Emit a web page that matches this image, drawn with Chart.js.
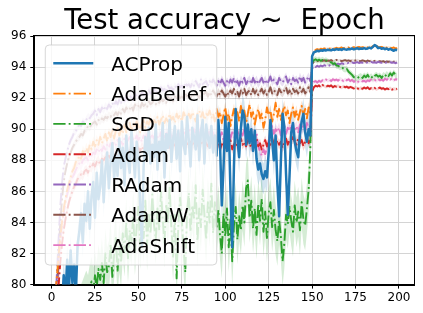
<!DOCTYPE html>
<html>
<head>
<meta charset="utf-8">
<script src="https://cdn.jsdelivr.net/npm/chart.js@4.4.0/dist/chart.umd.min.js"></script>
<style>
  html, body { margin: 0; padding: 0; background: #fff; }
</style>
</head>
<body>
<canvas id="accChart" width="423" height="313"></canvas>
<script>
// epochs 0..199 and axis ticks
const epochs = Array.from({ length: 200 }, (_, i) => i);
const xTicks = [0, 25, 50, 75, 100, 125, 150, 175, 200];
const yTicks = [80, 82, 84, 86, 88, 90, 92, 94, 96];
const lrDropEpoch = 150;
const titleText = 'Test accuracy ~  Epoch';

const names = ['ACProp', 'AdaBelief', 'SGD', 'Adam', 'RAdam', 'AdamW', 'AdaShift'];
const colors = ['#1f77b4', '#ff7f0e', '#2ca02c', '#d62728', '#9467bd', '#8c564b', '#e377c2'];
// half width of the shaded band, before / after the lr drop
const spreadBefore = [1.0, 0.35, 1.6, 0.3, 0.25, 0.25, 0.35];
const spreadAfter = [0.08, 0.08, 0.2, 0.1, 0.08, 0.08, 0.12];

const acprop = [
  62.0, 68.5, 72.0, 74.5, 76.3, 77.5, 78.6, 80.6, 79.2, 81.6,
  79.6, 82.2, 80.1, 81.3, 79.4, 82.6, 83.4, 84.6, 82.7, 85.2,
  84.1, 86.0, 83.6, 85.7, 86.6, 84.3, 87.2, 85.5, 86.3, 88.0,
  85.3, 87.4, 88.5, 86.2, 87.9, 89.1, 86.8, 88.3, 87.0, 89.4,
  87.5, 88.8, 86.4, 89.6, 88.1, 87.2, 89.9, 88.4, 86.9, 89.2,
  88.0, 85.3, 82.5, 87.6, 89.5, 88.3, 90.1, 87.8, 89.0, 88.2,
  90.3, 87.4, 89.2, 88.6, 90.4, 86.9, 89.7, 88.8, 90.6, 87.9,
  89.4, 90.2, 88.1, 89.9, 87.3, 90.5, 89.0, 88.4, 90.8, 89.3,
  87.6, 90.1, 89.5, 88.7, 90.9, 88.0, 89.8, 90.6, 87.8, 90.3,
  89.5, 88.8, 90.2, 88.5, 89.6, 88.3, 90.6, 89.0, 85.1, 87.5,
  90.8, 88.6, 90.4, 86.0, 82.4, 87.6, 91.3, 89.4, 88.2, 90.1,
  91.2, 90.8, 89.0, 90.3, 89.1, 90.0, 88.6, 89.9, 88.1, 87.4,
  87.8, 87.1, 86.8, 87.3, 86.9, 88.5, 90.6, 89.3, 88.0, 89.6,
  86.5, 84.4, 87.9, 91.0, 90.2, 87.1, 84.5, 87.0, 89.8, 90.4,
  89.2, 88.6, 88.2, 89.7, 90.5, 91.0, 89.8, 89.2, 90.0, 89.6,
  94.7, 94.95, 95.0, 95.05, 95.02, 95.08, 95.05, 95.1, 95.07, 95.12,
  95.1, 95.08, 95.14, 95.1, 95.16, 95.12, 95.15, 95.1, 95.18, 95.14,
  95.12, 95.17, 95.15, 95.2, 95.14, 95.18, 95.22, 95.16, 95.2, 95.18,
  95.22, 95.17, 95.2, 95.25, 95.2, 95.3, 95.42, 95.35, 95.22, 95.25,
  95.18, 95.22, 95.15, 95.2, 95.12, 95.18, 95.1, 95.05, 95.12, 95.1
];

const adabelief = [
  75.5, 77.8, 79.2, 80.4, 81.8, 83.0, 84.0, 84.9, 85.5, 86.1,
  86.5, 86.9, 87.3, 87.5, 87.9, 88.0, 88.3, 88.1, 88.6, 88.4,
  88.8, 88.5, 89.0, 88.7, 89.2, 88.9, 89.3, 89.0, 89.5, 89.1,
  89.4, 89.7, 89.2, 89.8, 89.5, 90.0, 89.4, 89.9, 90.1, 89.6,
  90.0, 89.7, 90.3, 89.8, 90.2, 90.4, 89.9, 90.3, 90.1, 90.5,
  90.2, 89.8, 90.4, 90.6, 90.1, 90.5, 90.3, 90.7, 90.2, 90.6,
  90.4, 90.8, 90.3, 90.6, 90.9, 90.4, 90.7, 90.5, 91.0, 90.6,
  90.8, 90.4, 91.0, 90.7, 90.9, 90.5, 91.1, 90.8, 90.6, 91.0,
  90.7, 91.1, 90.8, 90.5, 91.0, 91.2, 90.8, 91.1, 90.6, 91.0,
  90.9, 91.2, 90.7, 91.0, 90.5, 91.3, 90.8, 91.1, 90.4, 90.9,
  91.4, 90.6, 91.0, 90.2, 90.8, 91.3, 90.7, 91.1, 90.5, 91.5,
  90.9, 91.2, 90.4, 91.0, 91.6, 90.8, 91.1, 90.3, 90.9, 91.3,
  90.7, 91.0, 90.1, 90.6, 91.4, 90.9, 91.2, 90.5, 91.0, 91.7,
  90.8, 91.3, 90.6, 91.1, 91.5, 90.9, 91.2, 90.4, 91.0, 91.4,
  90.8, 91.2, 90.6, 91.1, 91.5, 90.9, 91.3, 90.7, 91.4, 91.0,
  94.5, 95.0, 95.1, 95.15, 95.1, 95.18, 95.14, 95.2, 95.16, 95.2,
  95.18, 95.22, 95.17, 95.2, 95.24, 95.2, 95.22, 95.26, 95.2, 95.24,
  95.22, 95.26, 95.2, 95.25, 95.28, 95.22, 95.27, 95.3, 95.24, 95.28,
  95.26, 95.3, 95.25, 95.32, 95.28, 95.34, 95.38, 95.36, 95.3, 95.28,
  95.3, 95.26, 95.3, 95.24, 95.28, 95.25, 95.22, 95.26, 95.2, 95.22
];

const sgd = [
  55.0, 60.5, 64.0, 66.8, 68.9, 70.6, 71.9, 73.0, 73.9, 74.6,
  75.3, 75.8, 76.4, 76.9, 77.2, 77.7, 78.0, 78.4, 78.7, 79.0,
  79.3, 79.0, 79.7, 80.2, 79.5, 80.6, 79.8, 81.0, 80.3, 81.4,
  80.1, 82.0, 80.8, 81.2, 82.6, 80.5, 81.9, 83.0, 80.9, 82.4,
  81.4, 83.3, 82.1, 84.0, 81.7, 83.5, 82.8, 84.4, 82.2, 83.7,
  85.0, 82.6, 84.1, 83.0, 85.4, 82.5, 84.6, 83.3, 85.8, 83.8,
  82.9, 84.9, 83.5, 86.0, 84.2, 82.7, 85.2, 84.0, 86.3, 83.6,
  81.8, 84.5, 80.4, 83.9, 85.6, 84.1, 82.3, 80.8, 84.7, 85.9,
  83.4, 85.1, 84.3, 86.4, 82.8, 84.9, 83.7, 86.1, 84.5, 82.9,
  85.3, 84.0, 86.5, 83.3, 85.3, 83.6, 84.8, 83.2, 82.0, 84.6,
  83.1, 84.9, 82.4, 84.2, 81.5, 83.8, 85.0, 82.9, 84.4, 83.5,
  85.1, 84.0, 86.2, 86.7, 84.3, 85.4, 83.6, 84.9, 83.2, 85.2,
  84.1, 85.5, 83.4, 84.7, 83.0, 84.6, 85.3, 83.7, 84.8, 83.5,
  82.8, 84.2, 83.1, 81.5, 82.6, 84.5, 83.9, 85.0, 84.1, 83.4,
  85.1, 84.0, 84.7, 83.5, 85.3, 84.2, 83.8, 84.9, 86.1, 88.8,
  94.2, 94.45, 94.5, 94.42, 94.48, 94.4, 94.46, 94.38, 94.44, 94.35,
  94.3, 94.32, 94.2, 94.25, 94.1, 94.08, 94.0, 94.02, 93.9, 93.85,
  93.88, 93.7, 93.6, 93.5, 93.35, 93.3, 93.28, 93.36, 93.42, 93.3,
  93.45, 93.35, 93.5, 93.3, 93.4, 93.28, 93.42, 93.5, 93.38, 93.45,
  93.3, 93.48, 93.4, 93.55, 93.42, 93.6, 93.45, 93.65, 93.5, 93.4
];

const adam = [
  70.5, 74.0, 76.4, 78.2, 79.8, 81.4, 82.6, 83.5, 84.2, 84.8,
  85.3, 85.7, 86.0, 86.3, 86.5, 86.8, 86.9, 87.1, 87.0, 87.3,
  87.4, 87.2, 87.6, 87.5, 87.8, 87.6, 87.9, 88.0, 87.7, 88.1,
  88.0, 88.2, 87.9, 88.3, 88.1, 88.4, 88.2, 88.5, 88.3, 88.4,
  88.6, 88.3, 88.5, 88.7, 88.4, 88.6, 88.8, 88.5, 88.7, 88.6,
  88.8, 88.6, 88.9, 88.7, 88.5, 88.9, 88.7, 89.0, 88.8, 88.6,
  88.9, 89.0, 88.7, 89.1, 88.8, 89.0, 88.9, 89.2, 88.8, 89.0,
  89.1, 88.9, 89.2, 89.0, 88.8, 89.1, 89.3, 88.9, 89.1, 89.0,
  89.2, 88.9, 89.1, 89.3, 89.0, 88.8, 89.2, 89.0, 89.3, 89.1,
  88.9, 89.2, 89.0, 88.8, 89.1, 88.9, 89.3, 88.7, 89.0, 89.2,
  88.8, 89.1, 88.9, 89.3, 88.7, 89.0, 89.2, 88.8, 89.1, 89.4,
  89.0, 89.2, 88.9, 89.3, 89.1, 88.8, 89.2, 89.0, 89.4, 88.9,
  89.1, 88.7, 89.0, 89.3, 88.9, 89.2, 89.0, 89.4, 89.1, 88.9,
  89.3, 89.0, 89.2, 88.8, 89.1, 89.4, 89.0, 89.3, 89.1, 89.5,
  89.2, 89.0, 89.4, 89.1, 89.3, 88.9, 89.2, 89.5, 89.1, 89.3,
  92.4, 92.7, 92.8, 92.75, 92.82, 92.7, 92.85, 92.78, 92.72, 92.8,
  92.76, 92.82, 92.7, 92.78, 92.74, 92.8, 92.72, 92.68, 92.76, 92.7,
  92.74, 92.66, 92.72, 92.68, 92.62, 92.7, 92.64, 92.58, 92.66, 92.6,
  92.68, 92.62, 92.7, 92.58, 92.64, 92.6, 92.66, 92.56, 92.62, 92.68,
  92.6, 92.64, 92.56, 92.62, 92.58, 92.65, 92.55, 92.6, 92.57, 92.6
];

const radam = [
  72.0, 75.6, 78.3, 80.5, 82.8, 85.0, 86.5, 87.6, 88.1, 88.6,
  89.0, 89.3, 89.5, 89.8, 89.9, 90.1, 90.3, 90.2, 90.5, 90.4,
  90.6, 90.8, 90.7, 90.9, 91.0, 91.2, 90.9, 91.3, 91.1, 91.4,
  91.2, 91.5, 91.3, 91.6, 91.4, 91.7, 91.5, 91.8, 91.6, 91.9,
  91.7, 92.0, 91.8, 92.1, 91.9, 92.0, 92.2, 91.9, 92.3, 92.1,
  92.2, 92.0, 92.4, 92.2, 92.3, 92.1, 92.5, 92.3, 92.4, 92.6,
  92.3, 92.5, 92.4, 92.7, 92.5, 92.6, 92.4, 92.8, 92.6, 92.7,
  92.5, 92.8, 92.6, 92.9, 92.7, 92.8, 92.6, 93.0, 92.8, 92.9,
  92.7, 93.0, 92.8, 93.1, 92.9, 92.7, 93.2, 92.9, 93.0, 93.1,
  92.8, 93.1, 92.9, 93.2, 93.0, 92.8, 93.1, 92.9, 93.2, 93.0,
  92.8, 93.1, 92.9, 93.2, 93.0, 93.3, 92.9, 93.1, 92.8, 93.2,
  93.0, 93.3, 92.9, 93.1, 93.2, 92.9, 93.3, 93.0, 93.2, 92.9,
  93.1, 93.3, 93.0, 93.2, 92.9, 93.1, 93.4, 93.0, 93.2, 93.1,
  92.9, 93.3, 93.1, 93.0, 93.2, 93.4, 93.0, 93.2, 92.9, 93.3,
  93.1, 93.2, 93.0, 93.4, 93.1, 93.3, 93.0, 93.2, 93.4, 93.1,
  93.9, 94.05, 94.0, 94.08, 94.02, 94.1, 94.05, 94.12, 94.08, 94.15,
  94.1, 94.18, 94.14, 94.2, 94.16, 94.22, 94.18, 94.25, 94.2, 94.24,
  94.22, 94.28, 94.24, 94.3, 94.26, 94.28, 94.32, 94.26, 94.3, 94.28,
  94.32, 94.27, 94.3, 94.26, 94.33, 94.29, 94.31, 94.27, 94.34, 94.3,
  94.28, 94.32, 94.27, 94.3, 94.26, 94.31, 94.28, 94.3, 94.25, 94.29
];

const adamw = [
  70.0, 74.0, 77.0, 79.4, 81.7, 83.9, 85.5, 86.6, 87.3, 87.8,
  88.2, 88.5, 88.8, 89.0, 89.2, 89.4, 89.5, 89.7, 89.6, 89.9,
  90.0, 90.2, 90.1, 90.3, 90.4, 90.5, 90.3, 90.6, 90.5, 90.7,
  90.6, 90.8, 90.7, 90.9, 90.8, 91.0, 90.9, 91.1, 90.9, 91.2,
  91.0, 91.3, 91.1, 91.4, 91.2, 91.3, 91.5, 91.2, 91.6, 91.4,
  91.5, 91.3, 91.7, 91.5, 91.6, 91.4, 91.8, 91.6, 91.7, 91.9,
  91.6, 91.8, 91.7, 92.0, 91.8, 91.9, 91.7, 92.1, 91.9, 92.0,
  91.8, 92.1, 91.9, 92.2, 92.0, 92.1, 91.9, 92.3, 92.1, 92.2,
  92.0, 92.3, 92.1, 92.4, 92.2, 92.0, 92.4, 92.2, 92.3, 92.4,
  92.1, 92.4, 92.2, 92.5, 92.3, 92.1, 92.4, 92.2, 92.5, 92.3,
  92.1, 92.4, 92.2, 92.5, 92.3, 92.6, 92.2, 92.4, 92.1, 92.5,
  92.3, 92.6, 92.2, 92.4, 92.5, 92.2, 92.6, 92.3, 92.5, 92.2,
  92.4, 92.6, 92.3, 92.5, 92.2, 92.4, 92.7, 92.3, 92.5, 92.4,
  92.2, 92.6, 92.4, 92.3, 92.5, 92.7, 92.3, 92.5, 92.2, 92.6,
  92.4, 92.5, 92.3, 92.7, 92.4, 92.6, 92.3, 92.5, 92.7, 92.4,
  94.2, 94.35, 94.4, 94.38, 94.42, 94.36, 94.4, 94.44, 94.38, 94.42,
  94.4, 94.45, 94.38, 94.42, 94.46, 94.4, 94.44, 94.38, 94.42, 94.45,
  94.4, 94.43, 94.38, 94.45, 94.4, 94.42, 94.46, 94.4, 94.38, 94.43,
  94.4, 94.36, 94.42, 94.38, 94.4, 94.35, 94.4, 94.37, 94.33, 94.38,
  94.35, 94.38, 94.32, 94.36, 94.34, 94.37, 94.32, 94.35, 94.33, 94.36
];

const adashift = [
  72.5, 75.8, 78.0, 79.6, 81.2, 82.7, 83.8, 84.6, 85.3, 85.8,
  86.2, 86.6, 86.9, 87.1, 87.4, 87.6, 87.8, 87.7, 88.0, 88.1,
  88.2, 88.0, 88.4, 88.3, 88.5, 88.4, 88.7, 88.5, 88.8, 88.6,
  88.9, 88.7, 89.0, 88.8, 89.1, 88.9, 89.2, 89.0, 89.3, 89.1,
  89.2, 89.0, 89.4, 89.1, 89.3, 89.5, 89.2, 89.4, 89.3, 89.6,
  89.3, 89.5, 89.2, 89.6, 89.4, 89.7, 89.3, 89.5, 89.6, 89.4,
  89.7, 89.5, 89.4, 89.8, 89.6, 89.5, 89.8, 89.6, 89.9, 89.5,
  89.7, 89.9, 89.6, 89.8, 89.5, 90.0, 89.7, 89.8, 89.6, 90.0,
  89.8, 89.6, 90.0, 89.7, 89.9, 89.6, 90.1, 89.8, 89.7, 90.0,
  89.6, 89.9, 89.5, 89.8, 89.4, 89.7, 89.9, 89.5, 89.8, 89.3,
  89.7, 89.5, 90.0, 89.4, 89.8, 89.6, 89.3, 89.9, 89.5, 89.8,
  89.6, 90.0, 89.4, 89.8, 89.5, 89.9, 89.7, 89.3, 89.8, 88.9,
  88.6, 88.3, 88.7, 88.4, 88.8, 89.2, 89.9, 90.2, 89.7, 90.0,
  89.8, 90.1, 89.6, 90.0, 90.2, 89.7, 90.1, 89.9, 90.3, 89.8,
  90.0, 90.2, 89.8, 90.3, 90.0, 90.2, 89.9, 90.4, 90.1, 90.2,
  92.9, 93.05, 93.1, 93.0, 93.12, 93.05, 93.15, 93.1, 93.2, 93.12,
  93.18, 93.1, 93.22, 93.15, 93.2, 93.12, 93.25, 93.18, 93.1, 93.2,
  93.15, 93.22, 93.1, 93.18, 93.05, 93.12, 93.0, 93.1, 93.15, 93.08,
  93.12, 93.05, 93.15, 93.1, 93.2, 93.12, 93.18, 93.1, 93.22, 93.15,
  93.2, 93.12, 93.25, 93.18, 93.3, 93.2, 93.28, 93.15, 93.22, 93.2
];

const seriesValues = [acprop, adabelief, sgd, adam, radam, adamw, adashift];
const FONT = 'DejaVu Sans';
const dashDot = [12.3, 3.1, 1.9, 3.1];

function hexToRgba(hex, a) {
  const n = parseInt(hex.slice(1), 16);
  return `rgba(${(n >> 16) & 255}, ${(n >> 8) & 255}, ${n & 255}, ${a})`;
}

const series = names.map((name, i) => ({
  label: name,
  values: seriesValues[i],
  color: colors[i],
  dash: i === 0 ? [] : dashDot,
  width: i === 0 ? 2.5 : 1.9,
}));

// mean lines first (index 0 ends up on top), then band pairs
const datasets = series.map(s => ({
  label: s.label,
  data: s.values.map((v, i) => ({ x: epochs[i], y: v })),
  borderColor: s.color,
  borderWidth: s.width,
  borderDash: s.dash,
  borderJoinStyle: 'round',
  pointRadius: 0,
  fill: false,
  clip: 0,
  order: 0,
}));

series.forEach((s, k) => {
  const half = i => (epochs[i] < lrDropEpoch ? spreadBefore[k] : spreadAfter[k]);
  const lowerIndex = datasets.length;
  datasets.push({
    label: s.label + ' low',
    data: s.values.map((v, i) => ({ x: epochs[i], y: v - half(i) })),
    borderWidth: 0,
    pointRadius: 0,
    fill: false,
    clip: 0,
    order: 10,
  });
  datasets.push({
    label: s.label + ' high',
    data: s.values.map((v, i) => ({ x: epochs[i], y: v + half(i) })),
    borderWidth: 0,
    pointRadius: 0,
    backgroundColor: hexToRgba(s.color, 0.2),
    fill: lowerIndex,
    clip: 0,
    order: 10,
  });
});

// title centred over the plot area, like matplotlib's ax.set_title
const titlePlugin = {
  id: 'axTitle',
  afterDraw(chart) {
    const { ctx, chartArea: a } = chart;
    ctx.save();
    ctx.font = `27.5px "${FONT}"`;
    ctx.fillStyle = '#000';
    ctx.textAlign = 'center';
    ctx.textBaseline = 'alphabetic';
    ctx.fillText(titleText, (a.left + a.right) / 2, 29);
    ctx.restore();
  }
};

// top and right spines
const framePlugin = {
  id: 'frame',
  afterDatasetsDraw(chart) {
    const { ctx, chartArea: a } = chart;
    ctx.save();
    ctx.strokeStyle = '#000';
    ctx.lineWidth = 1;
    ctx.strokeRect(Math.round(a.left) - 0.5, Math.round(a.top) - 0.5,
      Math.round(a.right - a.left) + 1, Math.round(a.bottom - a.top) + 1);
    ctx.restore();
  }
};

// matplotlib style legend box in the upper left of the plot
const legendPlugin = {
  id: 'mplLegend',
  afterDatasetsDraw(chart) {
    const { ctx, chartArea: a } = chart;
    const left = a.left + 11, top = a.top + 9, w = 171.5, h = 220, r = 4;
    ctx.save();
    ctx.beginPath();
    ctx.moveTo(left + r, top);
    ctx.arcTo(left + w, top, left + w, top + h, r);
    ctx.arcTo(left + w, top + h, left, top + h, r);
    ctx.arcTo(left, top + h, left, top, r);
    ctx.arcTo(left, top, left + w, top, r);
    ctx.closePath();
    ctx.fillStyle = 'rgba(255,255,255,0.8)';
    ctx.fill();
    ctx.strokeStyle = 'rgba(204,204,204,0.8)';
    ctx.lineWidth = 1;
    ctx.stroke();

    ctx.font = `20px "${FONT}"`;
    ctx.fillStyle = '#000';
    ctx.textBaseline = 'alphabetic';
    series.forEach((s, i) => {
      const y = top + 18.3 + i * 30.3;
      ctx.beginPath();
      ctx.setLineDash(s.dash);
      ctx.lineWidth = s.width;
      ctx.strokeStyle = s.color;
      ctx.moveTo(left + 8, y);
      ctx.lineTo(left + 48, y);
      ctx.stroke();
      ctx.setLineDash([]);
      ctx.fillText(s.label, left + 66, y + 7.4);
    });
    ctx.restore();
  }
};

const tickFont = { family: FONT, size: 12 };

new Chart(document.getElementById('accChart'), {
  type: 'line',
  data: { datasets },
  options: {
    responsive: false,
    animation: false,
    devicePixelRatio: 1,
    layout: { padding: { left: 7, right: 8.5, top: 36, bottom: 6 } },
    elements: { line: { tension: 0 }, point: { radius: 0 } },
    plugins: {
      legend: { display: false },
      tooltip: { enabled: false },
      title: { display: false },
    },
    scales: {
      x: {
        type: 'linear',
        min: -9.95,
        max: 208.95,
        afterBuildTicks: axis => { axis.ticks = xTicks.map(v => ({ value: v })); },
        grid: { color: '#d4d4d4', tickColor: '#000', tickLength: 4 },
        border: { color: '#000', width: 1 },
        ticks: { font: tickFont, color: '#000', padding: 2, maxRotation: 0, autoSkip: false },
      },
      y: {
        type: 'linear',
        min: 80,
        max: 96,
        afterBuildTicks: axis => { axis.ticks = yTicks.map(v => ({ value: v })); },
        grid: { color: '#d4d4d4', tickColor: '#000', tickLength: 4 },
        border: { color: '#000', width: 1 },
        ticks: { font: tickFont, color: '#000', padding: 4, autoSkip: false },
      },
    },
  },
  plugins: [framePlugin, legendPlugin, titlePlugin],
});
</script>
</body>
</html>
